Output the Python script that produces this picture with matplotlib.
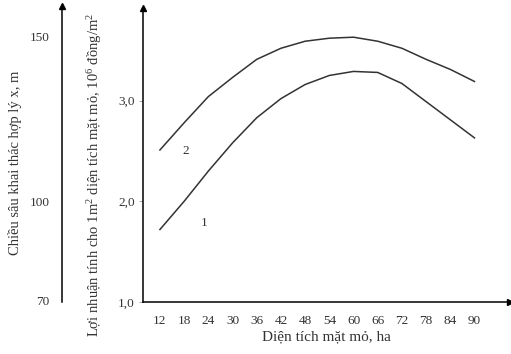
import numpy as np
import matplotlib
matplotlib.use('Agg')
import matplotlib.pyplot as plt

plt.rcParams['font.family'] = ['Liberation Serif', 'DejaVu Serif']
plt.rcParams['mathtext.fontset'] = 'custom'
plt.rcParams['mathtext.rm'] = 'Liberation Serif'
plt.rcParams['mathtext.it'] = 'Liberation Serif:italic'

# data
area = [12, 18, 24, 30, 36, 42, 48, 54, 60, 66, 72, 78, 84, 90]
profit_1 = [1.72, 2.00, 2.30, 2.58, 2.83, 3.02, 3.16, 3.25, 3.29, 3.28, 3.17, 2.99, 2.81, 2.63]
profit_2 = [2.51, 2.78, 3.04, 3.23, 3.41, 3.52, 3.59, 3.62, 3.63, 3.59, 3.52, 3.41, 3.31, 3.19]
profit_ticks = [1.0, 2.0, 3.0]
profit_labels = ['1,0', '2,0', '3,0']
depth_ticks = [70, 100, 150]

txt = '#333333'
W, H = 511, 354
fig = plt.figure(figsize=(W / 100, H / 100), dpi=100)

# main axes: spine at x=143, x-axis at y=302, arrow tips at 510 / 8
ax = fig.add_axes([143 / W, 1 - 302 / H, (510 - 143) / W, (302 - 8) / H])
ax.plot(area, profit_1, color='#333333', lw=1.1)
ax.plot(area, profit_2, color='#333333', lw=1.1)
ax.set_xlim(7.8, 98.8)
ax.set_ylim(1.0, 3.92)
ax.set_xticks(area)
ax.set_xticklabels([str(a) for a in area], fontsize=9.5, color=txt)
ax.set_yticks(profit_ticks)
ax.set_yticklabels(profit_labels, fontsize=9.5, color=txt)
ax.tick_params(axis='x', length=0, pad=9)
ax.tick_params(axis='y', length=3, width=0.6, color='#999999', pad=3)
for s in ['top', 'right']:
    ax.spines[s].set_visible(False)
for s in ['left', 'bottom']:
    ax.spines[s].set_linewidth(1.1)
ax.plot(1, 0, '>k', ms=4, transform=ax.transAxes, clip_on=False)
ax.plot(0, 1, '^k', ms=4, transform=ax.transAxes, clip_on=False)
ax.set_xlabel('Diện tích mặt mỏ, ha', fontsize=11, color=txt, labelpad=3)

ax.text(18.5, 2.50, '2', fontsize=9.5, color=txt, ha='center', va='center')
ax.text(22.9, 1.78, '1', fontsize=9.5, color=txt, ha='center', va='center')

# left depth axis
ax2 = fig.add_axes([62 / W, 1 - 302 / H, 0.001, (302 - 6) / H])
ax2.set_ylim(69.4, 159.1)
ax2.set_xticks([])
ax2.set_yticks(depth_ticks)
ax2.set_yticklabels([str(d) for d in depth_ticks], fontsize=9.5, color=txt)
ax2.tick_params(axis='y', length=0, pad=9)
for s in ['top', 'right', 'bottom']:
    ax2.spines[s].set_visible(False)
ax2.spines['left'].set_linewidth(1.1)
ax2.plot(0, 1, '^k', ms=4, transform=ax2.transAxes, clip_on=False)

fig.text(15 / W, 1 - 163 / H, 'Chiều sâu khai thác hợp lý x, m',
         rotation=90, ha='center', va='center', fontsize=10.5, color=txt)
fig.text(95 / W, 1 - 175 / H,
         'Lợi nhuận tính cho 1m$^2$ diện tích mặt mỏ, 10$^6$ đồng/m$^2$',
         rotation=90, ha='center', va='center', fontsize=10.5, color=txt)

fig.savefig('out.png', dpi=100)
